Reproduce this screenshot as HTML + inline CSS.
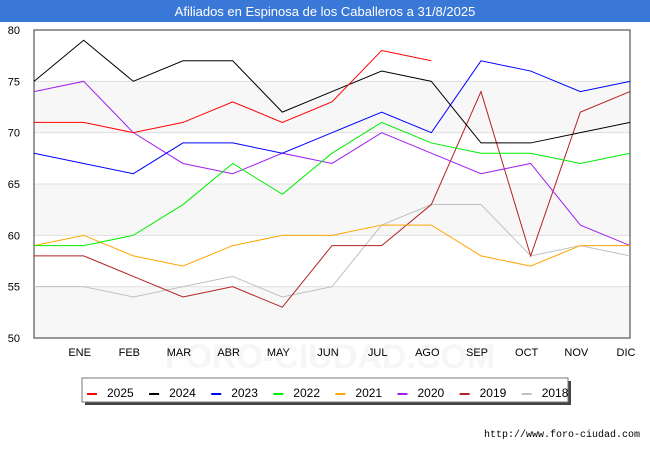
<!DOCTYPE html>
<html><head><meta charset="utf-8">
<style>
body{margin:0;background:#fff;font-family:"Liberation Sans",sans-serif;}
#wrap{position:relative;width:650px;height:450px;overflow:hidden;}
</style></head>
<body>
<div id="wrap">
<svg id="chart" width="650" height="450" xmlns="http://www.w3.org/2000/svg"></svg>
</div>
<script>
const months=["ENE","FEB","MAR","ABR","MAY","JUN","JUL","AGO","SEP","OCT","NOV","DIC"];
const yTicks=[50,55,60,65,70,75,80];
const seriesNames=["2025","2024","2023","2022","2021","2020","2019","2018"];
const seriesColors=["#ff0000","#000000","#0000ff","#00ee00","#ffa500","#a020f0","#b22222","#c0c0c0"];
const s2025=[71,71,70,71,73,71,73,78,77];
const s2024=[75,79,75,77,77,72,74,76,75,69,69,70,71];
const s2023=[68,67,66,69,69,68,70,72,70,77,76,74,75];
const s2022=[59,59,60,63,67,64,68,71,69,68,68,67,68];
const s2021=[59,60,58,57,59,60,60,61,61,58,57,59,59];
const s2020=[74,75,70,67,66,68,67,70,68,66,67,61,59];
const s2019=[58,58,56,54,55,53,59,59,63,74,58,72,74];
const s2018=[55,55,54,55,56,54,55,61,63,63,58,59,58];
const allSeries=[s2025,s2024,s2023,s2022,s2021,s2020,s2019,s2018];

const NS="http://www.w3.org/2000/svg";
const svg=document.getElementById('chart');
const L=34,R=630,T=30,B=338,yMin=50,yMax=80;
const xPos=i=>L+i*(R-L)/12;
const yPos=v=>B-(v-yMin)*(B-T)/(yMax-yMin);
function mk(tag,attrs,parent){const e=document.createElementNS(NS,tag);for(const k in attrs)e.setAttribute(k,attrs[k]);(parent||svg).appendChild(e);return e;}

let e=mk('rect',{x:0,y:0,width:650,height:22,fill:'#3a78d8'});


e=mk('text',{x:325,y:16,'text-anchor':'middle','font-size':13,fill:'#fff'});
e.textContent='Afiliados en Espinosa de los Caballeros a 31/8/2025';



for(let i=0;i<yTicks.length-1;i++){
  if(i%2===0){
    e=mk('rect',{x:L,y:yPos(yTicks[i+1]),width:R-L,height:yPos(yTicks[i])-yPos(yTicks[i+1]),fill:'#f7f7f7'});
    
    
  }
}
e=mk('text',{x:330,y:368,'text-anchor':'middle','font-size':34,fill:'#f6f6f6','font-weight':'bold'});
e.textContent='FORO-CIUDAD.COM';


yTicks.forEach(v=>{
  e=mk('line',{x1:L,x2:R,y1:yPos(v),y2:yPos(v),stroke:'#e0e0e0','stroke-width':1});
  
  
  e=mk('text',{x:L-14,y:yPos(v)+4,'text-anchor':'end','font-size':11,fill:'#000'});
  e.textContent=v;
  
  
});
months.forEach((m,i)=>{
  e=mk('text',{x:xPos(i+1)-4,y:356,'text-anchor':'middle','font-size':11,fill:'#000'});
  e.textContent=m;
  
  
});
e=mk('rect',{x:L,y:T,width:R-L,height:B-T,fill:'none',stroke:'#333','stroke-width':1});



for(let k=allSeries.length-1;k>=0;k--){
  const pts=allSeries[k].map((v,i)=>xPos(i)+','+yPos(v)).join(' ');
  e=mk('polyline',{points:pts,fill:'none',stroke:seriesColors[k],'stroke-width':1});
  
  
}

e=mk('rect',{x:85,y:381,width:486,height:24,fill:'#444'});


e=mk('rect',{x:82,y:378,width:486,height:24,fill:'#fff',stroke:'#777','stroke-width':1});


seriesNames.forEach((n,i)=>{
  const x0=87+i*62.1;
  e=mk('line',{x1:x0,x2:x0+10,y1:394,y2:394,stroke:seriesColors[i],'stroke-width':2});
  
  
  e=mk('text',{x:x0+20,y:397,'font-size':12,fill:'#000'});
  e.textContent=n;
  
  
});
e=mk('text',{x:640,y:437,'text-anchor':'end','font-size':10,fill:'#000','font-family':'Liberation Mono, monospace'});
e.textContent='http://www.foro-ciudad.com';


</script>
</body></html>
